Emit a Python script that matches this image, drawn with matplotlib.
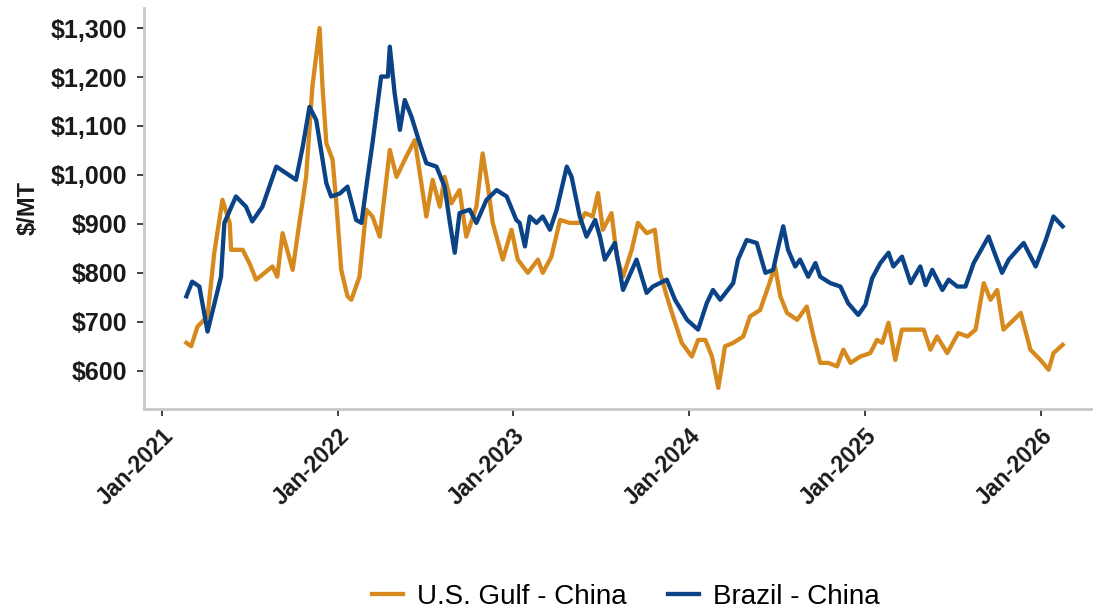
import matplotlib
matplotlib.use("Agg")
import matplotlib.pyplot as plt
import matplotlib.dates as mdates
import matplotlib.ticker as mticker
import pandas as pd

# U.S. Gulf - China ($/MT)
gulf_dates = [
    "2021-02-20", "2021-03-02", "2021-03-15", "2021-04-05", "2021-04-19", "2021-05-06",
    "2021-05-21", "2021-05-24", "2021-06-17", "2021-07-01", "2021-07-15", "2021-08-18",
    "2021-08-28", "2021-09-08", "2021-09-29", "2021-10-13", "2021-10-27", "2021-11-09",
    "2021-11-24", "2021-11-30", "2021-12-08", "2021-12-21", "2021-12-29", "2022-01-08",
    "2022-01-21", "2022-01-29", "2022-02-15", "2022-03-01", "2022-03-14", "2022-03-29",
    "2022-04-19", "2022-05-03", "2022-05-23", "2022-06-10", "2022-07-04", "2022-07-17",
    "2022-08-01", "2022-08-11", "2022-08-25", "2022-09-11", "2022-09-25", "2022-10-16",
    "2022-10-29", "2022-11-09", "2022-11-19", "2022-12-10", "2022-12-28", "2023-01-10",
    "2023-01-31", "2023-02-21", "2023-03-03", "2023-03-21", "2023-04-08", "2023-04-28",
    "2023-05-19", "2023-05-30", "2023-06-15", "2023-06-26", "2023-07-06", "2023-07-24",
    "2023-08-04", "2023-08-17", "2023-09-04", "2023-09-17", "2023-10-05", "2023-10-22",
    "2023-11-02", "2023-11-16", "2023-11-29", "2023-12-17", "2024-01-07", "2024-01-20",
    "2024-02-04", "2024-02-18", "2024-03-02", "2024-03-16", "2024-04-02", "2024-04-23",
    "2024-05-07", "2024-05-28", "2024-06-14", "2024-06-28", "2024-07-09", "2024-07-23",
    "2024-08-13", "2024-09-02", "2024-09-16", "2024-09-30", "2024-10-17", "2024-11-04",
    "2024-11-17", "2024-12-02", "2024-12-22", "2025-01-12", "2025-01-26", "2025-02-06",
    "2025-02-19", "2025-03-05", "2025-03-19", "2025-04-12", "2025-05-03", "2025-05-17",
    "2025-05-31", "2025-06-21", "2025-07-14", "2025-08-02", "2025-08-19", "2025-09-05",
    "2025-09-19", "2025-10-03", "2025-10-16", "2025-10-31", "2025-11-21", "2025-12-11",
    "2026-01-01", "2026-01-18", "2026-01-28", "2026-02-16",
]
gulf_values = [
    657, 650, 690, 711, 841, 949,
    902, 847, 847, 820, 786, 813,
    792, 881, 806, 902, 996, 1180,
    1300, 1180, 1065, 1031, 940, 806,
    752, 745, 792, 929, 915, 874,
    1051, 996, 1037, 1071, 915, 990,
    935, 996, 942, 969, 874, 935,
    1044, 976, 902, 827, 888, 827,
    800, 827, 800, 833, 908, 902,
    902, 922, 915, 963, 888, 922,
    833, 792, 847, 902, 881, 888,
    800, 752, 711, 657, 629, 663,
    663, 629, 565, 650, 657, 670,
    711, 724, 772, 813, 752, 718,
    704, 731, 670, 616, 616, 609,
    643, 616, 629, 636, 663, 657,
    698, 622, 684, 684, 684, 643,
    670, 636, 677, 670, 684, 779,
    745, 765, 684, 698, 718, 643,
    622, 602, 636, 653,
]

# Brazil - China ($/MT)
brazil_dates = [
    "2021-02-20", "2021-03-04", "2021-03-19", "2021-04-05", "2021-05-03", "2021-05-10",
    "2021-06-03", "2021-06-24", "2021-07-07", "2021-07-28", "2021-08-26", "2021-10-06",
    "2021-10-20", "2021-11-03", "2021-11-17", "2021-12-08", "2021-12-18", "2022-01-05",
    "2022-01-21", "2022-02-08", "2022-02-19", "2022-03-04", "2022-03-14", "2022-04-01",
    "2022-04-15", "2022-04-19", "2022-04-29", "2022-05-10", "2022-05-20", "2022-06-03",
    "2022-06-20", "2022-07-04", "2022-07-25", "2022-08-11", "2022-08-22", "2022-09-01",
    "2022-09-11", "2022-10-02", "2022-10-16", "2022-11-06", "2022-11-27", "2022-12-18",
    "2023-01-07", "2023-01-14", "2023-01-25", "2023-02-04", "2023-02-18", "2023-03-03",
    "2023-03-18", "2023-04-01", "2023-04-22", "2023-05-02", "2023-05-19", "2023-06-02",
    "2023-06-20", "2023-06-30", "2023-07-10", "2023-07-31", "2023-08-17", "2023-09-14",
    "2023-10-05", "2023-10-18", "2023-11-16", "2023-12-03", "2023-12-28", "2024-01-20",
    "2024-02-07", "2024-02-20", "2024-03-06", "2024-04-02", "2024-04-12", "2024-04-30",
    "2024-05-21", "2024-06-08", "2024-06-24", "2024-07-05", "2024-07-15", "2024-07-25",
    "2024-08-09", "2024-08-19", "2024-09-05", "2024-09-20", "2024-09-30", "2024-10-21",
    "2024-11-11", "2024-11-27", "2024-12-18", "2025-01-02", "2025-01-16", "2025-02-02",
    "2025-02-19", "2025-03-01", "2025-03-19", "2025-04-06", "2025-04-26", "2025-05-07",
    "2025-05-21", "2025-06-11", "2025-06-24", "2025-07-12", "2025-07-29", "2025-08-15",
    "2025-09-15", "2025-09-25", "2025-10-13", "2025-10-27", "2025-11-14", "2025-11-27",
    "2025-12-22", "2026-01-12", "2026-01-28", "2026-02-16",
]
brazil_values = [
    752, 782, 772, 680, 792, 902,
    956, 935, 905, 935, 1017, 990,
    1058, 1139, 1112, 983, 956, 962,
    976, 908, 902, 996, 1065, 1201,
    1201, 1262, 1167, 1092, 1153, 1119,
    1065, 1024, 1017, 976, 902, 841,
    922, 929, 902, 949, 969, 956,
    908, 902, 854, 915, 902, 915,
    888, 929, 1017, 996, 915, 874,
    908, 874, 827, 861, 765, 827,
    759, 772, 786, 745, 704, 684,
    738, 765, 745, 779, 827, 867,
    861, 800, 806, 854, 895, 847,
    813, 827, 792, 820, 792, 779,
    772, 738, 714, 735, 789, 820,
    841, 813, 833, 779, 813, 775,
    806, 765, 786, 772, 772, 820,
    874, 847, 800, 827, 847, 861,
    813, 867, 915, 895,
]

year_ticks = ["2021-01-01", "2022-01-01", "2023-01-01", "2024-01-01", "2025-01-01", "2026-01-01"]
y_ticks = [600, 700, 800, 900, 1000, 1100, 1200, 1300]

gulf_color = "#D68A1E"
brazil_color = "#0A4487"

plt.rcParams["font.family"] = ["Liberation Sans", "DejaVu Sans"]

fig = plt.figure(figsize=(10.96, 6.14), dpi=100)
ax = fig.add_axes([0.131, 0.334, 0.864, 0.653])

ax.plot(pd.to_datetime(gulf_dates), gulf_values, color=gulf_color, linewidth=3.1,
        label="U.S. Gulf - China", solid_joinstyle="round")
ax.plot(pd.to_datetime(brazil_dates), brazil_values, color=brazil_color, linewidth=3.1,
        label="Brazil - China", solid_joinstyle="round")

ax.set_xlim(pd.Timestamp("2020-11-23"), pd.Timestamp("2026-04-15"))
ax.set_ylim(522, 1341)

ax.set_xticks(pd.to_datetime(year_ticks))
ax.xaxis.set_major_formatter(mdates.DateFormatter("%b-%Y"))
ax.set_yticks(y_ticks)
ax.yaxis.set_major_formatter(mticker.FuncFormatter(lambda v, p: f"${v:,.0f}"))

for lab in ax.get_xticklabels():
    lab.set_rotation(45)
    lab.set_ha("right")
    lab.set_rotation_mode("anchor")
    lab.set_fontweight("bold")
    lab.set_fontsize(16.5)
for lab in ax.get_yticklabels():
    lab.set_fontweight("bold")
    lab.set_fontsize(18)

ax.tick_params(axis="both", direction="out", length=5, width=1.3, color="#333333",
               labelcolor="#1a1a1a")
ax.tick_params(axis="x", pad=6)
ax.tick_params(axis="y", pad=7)

for side in ["top", "right"]:
    ax.spines[side].set_visible(False)
for side in ["left", "bottom"]:
    ax.spines[side].set_color("#C8C8C8")
    ax.spines[side].set_linewidth(2)

ax.set_ylabel("$/MT", fontsize=17, fontweight="bold", color="#1a1a1a", labelpad=8)

fig.legend(loc="center", bbox_to_anchor=(0.571, 0.028), ncol=2, frameon=False,
           fontsize=20, handlelength=1.1, columnspacing=1.5, handletextpad=0.5)

fig.savefig("out.png", dpi=100)
